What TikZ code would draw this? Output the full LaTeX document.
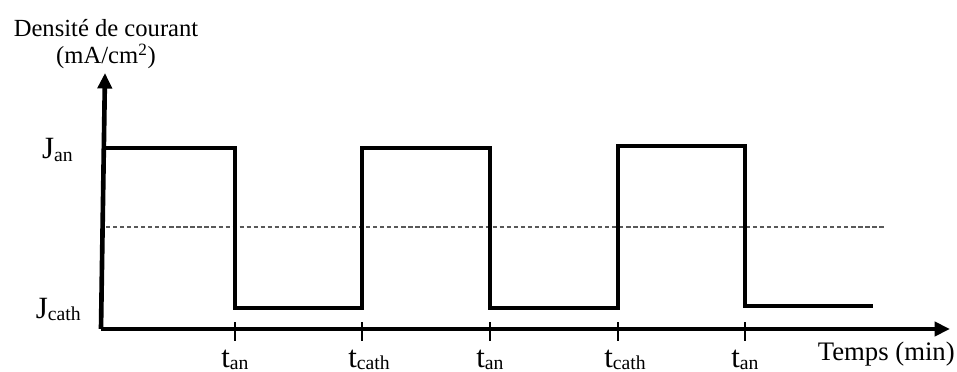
\documentclass[tikz,border=0pt]{standalone}
\usepackage{fontspec}
\setmainfont{Liberation Serif}
\usepackage{tikz}
\usetikzlibrary{arrows.meta, positioning}
\tikzstyle{axis} = [line width=3.3pt,-{Triangle[length=11pt,width=10pt]}]
\tikzstyle{signal} = [line width=2.4pt, line join=miter]
\tikzstyle{tick} = [line width=1.4pt]
\tikzstyle{mean} = [dash pattern=on 3pt off 2pt, line width=0.8pt, black!65]
\tikzstyle{lbl} = [font=\fontsize{17.5}{19}\selectfont, inner sep=0pt]
\tikzstyle{sym} = [font=\fontsize{22}{24}\selectfont, inner sep=0pt]
\newcommand\idx[1]{\raisebox{-2pt}{\fontsize{14}{15}\selectfont #1}}

\begin{document}
\begin{tikzpicture}[x=0.025cm, y=-0.025cm]
\useasboundingbox (0,0) rectangle (957,372);
%----------------------------------------------------------------------------
% Axes
\coordinate (origin) at (101,329);
\coordinate (yEnd) at (105,73);
\coordinate (xEnd) at (950,329);
\draw [axis] (origin) -- (yEnd);
\draw [axis] (origin) -- (xEnd);

% mean level
\coordinate (meanL) at (106,227);
\coordinate (meanR) at (884,227);
\draw [mean] (meanL) -- (meanR);

%----------------------------------------------------------------------------
% Pulsed current
\draw [signal] (104,148) -- (235,148) -- (235,308) -- (362,308) -- (362,148)
  -- (490,148) -- (490,308) -- (618,308) -- (618,146) -- (745,146)
  -- (745,306) -- (873,306);

%----------------------------------------------------------------------------
% Ticks and labels
\foreach \x/\name/\txt in {235/tA/an, 362/tB/cath, 490/tC/an, 618/tD/cath, 745/tE/an} {
  \draw [tick] (\x,322) -- (\x,341);
  \node (\name) [sym, anchor=base west] at (\x-14,367) {t\idx{\txt}};
}

\node (yTitle) [lbl, anchor=base] at (106,37) {Densité de courant};
\node (yUnit) [lbl, anchor=base] at (106,64) {(mA/cm\textsuperscript{2})};
\node (jAn) [sym, anchor=base east] at (73,159) {J\idx{an}};
\node (jCath) [sym, anchor=base east] at (81,318) {J\idx{cath}};
\node (xTitle) [font=\fontsize{19}{21}\selectfont, inner sep=0pt, anchor=base east] at (955,360) {Temps (min)};

\end{tikzpicture}
\end{document}
